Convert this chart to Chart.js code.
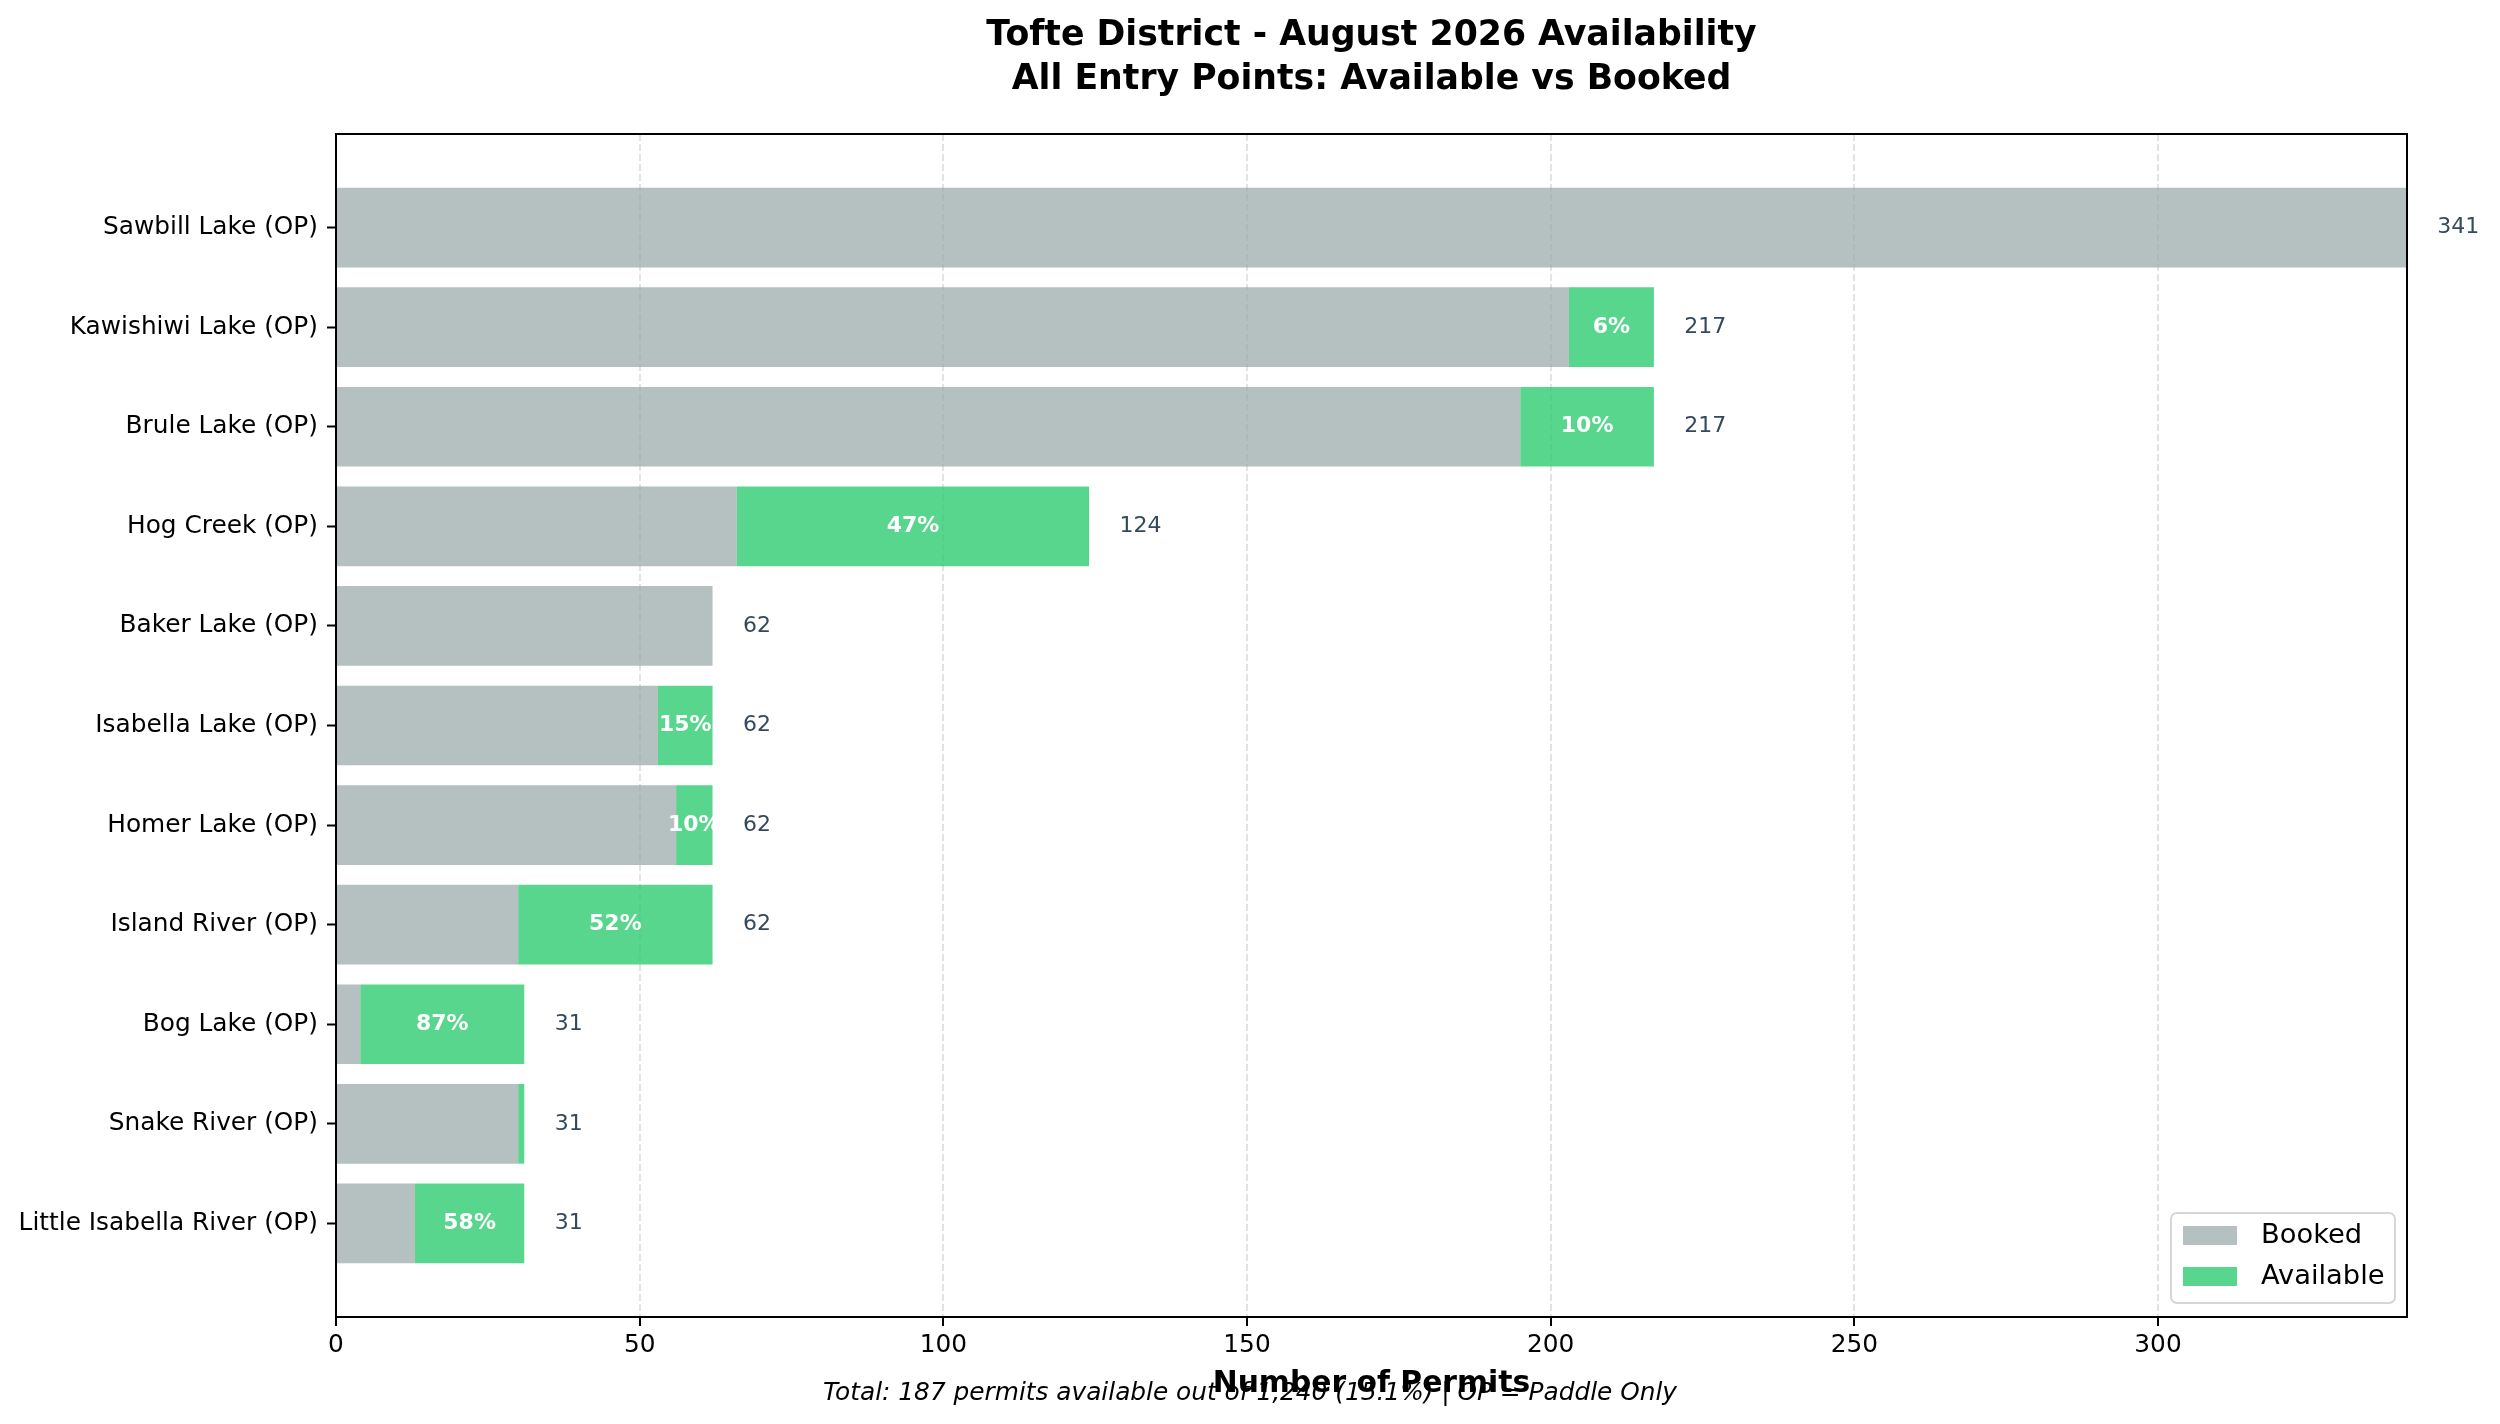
<!DOCTYPE html>
<html>
<head>
<meta charset="utf-8">
<title>Tofte District - August 2026 Availability</title>
<script src="https://cdn.jsdelivr.net/npm/chart.js@4.4.0/dist/chart.umd.min.js"></script>
<style>
    html, body { margin: 0; padding: 0; background: #ffffff; }
    canvas { display: block; }
</style>
</head>
<body>
<canvas id="availChart" width="2500" height="1424"></canvas>
<script>
// entry points, top to bottom
const categories = [
    'Sawbill Lake (OP)',
    'Kawishiwi Lake (OP)',
    'Brule Lake (OP)',
    'Hog Creek (OP)',
    'Baker Lake (OP)',
    'Isabella Lake (OP)',
    'Homer Lake (OP)',
    'Island River (OP)',
    'Bog Lake (OP)',
    'Snake River (OP)',
    'Little Isabella River (OP)'
];
const booked = [341, 203, 195, 66, 62, 53, 56, 30, 4, 30, 13];
const available = [0, 14, 22, 58, 0, 9, 6, 32, 27, 1, 18];
const xTicks = [0, 50, 100, 150, 200, 250, 300];

const titleLines = ['Tofte District - August 2026 Availability', 'All Entry Points: Available vs Booked'];
const xTitle = 'Number of Permits';

const totals = booked.map(function(b, i) { return b + available[i]; });
const sumAvail = available.reduce(function(a, b) { return a + b; }, 0);
const sumTotal = totals.reduce(function(a, b) { return a + b; }, 0);
const footnote = 'Total: ' + sumAvail + ' permits available out of ' + sumTotal.toLocaleString('en-US') +
    ' (' + (sumAvail / sumTotal * 100).toFixed(1) + '%) | OP = Paddle Only';

const FONT = "'DejaVu Sans', sans-serif";
Chart.defaults.font.family = FONT;
Chart.defaults.color = '#000000';

// titles, frame, value labels and legend box
const decorations = {
    id: 'decorations',
    afterDatasetsDraw: function(chart) {
        const ctx = chart.ctx;
        const area = chart.chartArea;
        const xs = chart.scales.x;
        const ys = chart.scales.y;

        ctx.save();
        // top and right spines
        ctx.strokeStyle = '#000000';
        ctx.lineWidth = 2;
        ctx.beginPath();
        ctx.moveTo(area.left, area.top);
        ctx.lineTo(area.right, area.top);
        ctx.lineTo(area.right, area.bottom);
        ctx.stroke();

        // total labels
        ctx.textBaseline = 'middle';
        ctx.textAlign = 'left';
        ctx.fillStyle = '#34495e';
        ctx.font = '22px ' + FONT;
        totals.forEach(function(t, i) {
            ctx.fillText(String(t), xs.getPixelForValue(t + 5), ys.getPixelForValue(i));
        });

        // percent available labels
        ctx.textAlign = 'center';
        ctx.fillStyle = '#ffffff';
        ctx.font = 'bold 22px ' + FONT;
        available.forEach(function(a, i) {
            const pct = a / totals[i] * 100;
            if (pct >= 5) {
                ctx.fillText(Math.round(pct) + '%', xs.getPixelForValue(booked[i] + a / 2), ys.getPixelForValue(i));
            }
        });

        // title
        const cx = (area.left + area.right) / 2;
        ctx.fillStyle = '#000000';
        ctx.textBaseline = 'alphabetic';
        ctx.font = 'bold 34.7px ' + FONT;
        ctx.fillText(titleLines[0], cx, 45);
        ctx.fillText(titleLines[1], cx, 88.5);

        // footnote first, axis title on top of it
        ctx.font = 'italic 24.8px ' + FONT;
        ctx.fillText(footnote, chart.width / 2, 1400);
        ctx.font = 'bold 29.8px ' + FONT;
        ctx.fillText(xTitle, cx, 1392);

        // legend (lower right inside plot)
        const boxW = 224, boxH = 90;
        const bx = area.right - 12 - boxW;
        const by = area.bottom - 14 - boxH;
        ctx.beginPath();
        ctx.roundRect(bx, by, boxW, boxH, 6);
        ctx.fillStyle = 'rgba(255,255,255,0.8)';
        ctx.fill();
        ctx.strokeStyle = '#d6d6d6';
        ctx.lineWidth = 2;
        ctx.stroke();
        ctx.textAlign = 'left';
        ctx.textBaseline = 'middle';
        ctx.font = '27.3px ' + FONT;
        chart.data.datasets.forEach(function(ds, k) {
            const rowY = by + 13 + k * 41;
            ctx.fillStyle = ds.backgroundColor;
            ctx.fillRect(bx + 12, rowY, 54, 19);
            ctx.fillStyle = '#000000';
            ctx.fillText(ds.label, bx + 90, rowY + 10);
        });
        ctx.restore();
    }
};

const ctx = document.getElementById('availChart').getContext('2d');
const availChart = new Chart(ctx, {
    type: 'bar',
    data: {
        datasets: [{
            label: 'Booked',
            data: booked.map(function(v, i) { return {x: v, y: i}; }),
            backgroundColor: 'rgba(149, 165, 166, 0.7)',
            borderWidth: 0
        }, {
            label: 'Available',
            data: available.map(function(v, i) { return {x: v, y: i}; }),
            backgroundColor: 'rgba(46, 204, 113, 0.8)',
            borderWidth: 0
        }]
    },
    options: {
        indexAxis: 'y',
        responsive: false,
        animation: false,
        devicePixelRatio: 1,
        categoryPercentage: 0.8,
        barPercentage: 1.0,
        layout: {
            padding: { top: 134, right: 93, bottom: 0, left: 0 }
        },
        plugins: {
            legend: { display: false },
            title: { display: false },
            tooltip: { enabled: true }
        },
        scales: {
            x: {
                type: 'linear',
                stacked: true,
                min: 0,
                max: 341,
                afterBuildTicks: function(scale) {
                    scale.ticks = xTicks.map(function(v) { return {value: v}; });
                },
                afterFit: function(scale) { scale.height = 107; },
                ticks: {
                    font: { size: 24.8 },
                    color: '#000000',
                    padding: 5,
                    maxRotation: 0
                },
                grid: {
                    color: 'rgba(176, 176, 176, 0.35)',
                    lineWidth: 2,
                    tickColor: '#000000',
                    tickLength: 9,
                    tickWidth: 2
                },
                border: {
                    display: true,
                    color: '#000000',
                    width: 2,
                    dash: [7, 3]
                }
            },
            y: {
                type: 'linear',
                stacked: true,
                reverse: true,
                offset: false,
                min: -0.94,
                max: 10.94,
                afterBuildTicks: function(scale) {
                    scale.ticks = categories.map(function(c, i) { return {value: i}; });
                },
                afterFit: function(scale) { scale.width = 336; },
                ticks: {
                    autoSkip: false,
                    font: { size: 24.8 },
                    color: '#000000',
                    padding: 9,
                    callback: function(value) { return categories[value]; }
                },
                grid: {
                    display: true,
                    offset: false,
                    drawOnChartArea: false,
                    tickColor: '#000000',
                    tickLength: 9,
                    tickWidth: 2
                },
                border: {
                    display: true,
                    color: '#000000',
                    width: 2
                }
            }
        }
    },
    plugins: [decorations]
});
</script>
</body>
</html>
